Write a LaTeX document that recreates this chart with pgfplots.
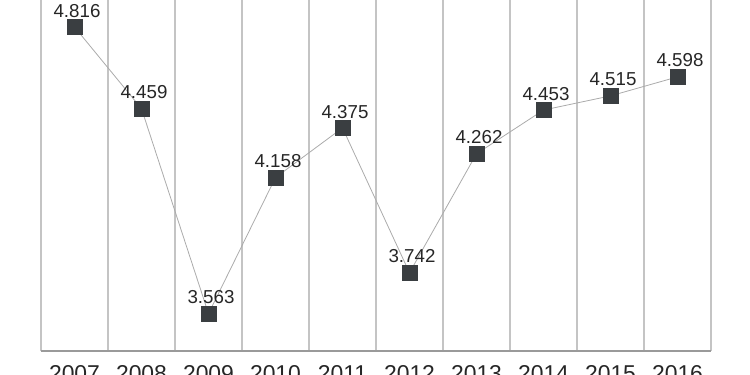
\documentclass[border=0pt]{standalone}
\usepackage{fontspec}
\setmainfont{Liberation Sans}
\usepackage{pgfplots}
\pgfplotsset{compat=1.18}
\definecolor{markc}{HTML}{3A3E41}
\definecolor{linec}{HTML}{ABABAB}
\definecolor{gridc}{HTML}{C4C4C4}
\definecolor{axisc}{HTML}{9A9A9A}
\begin{document}
\begin{tikzpicture}
\path[use as bounding box] (0,0) rectangle (750bp,375bp);
\begin{axis}[
  at={(41bp,24bp)}, anchor=south west,
  width=670bp, height=351bp, scale only axis,
  xmin=-0.5, xmax=9.5, ymin=3.40, ymax=4.934,
  axis x line*=bottom, axis y line=none,
  x axis line style={-, draw=axisc, line width=1.3bp},
  xtick={0,...,9},
  xticklabels={2007,2008,2009,2010,2011,2012,2013,2014,2015,2016},
  major tick length=0pt, minor tick length=0pt,
  minor xtick={-0.5,0.5,...,9.5},
  xminorgrids,
  minor grid style={draw=gridc, line width=1.2bp},
  ytick=\empty,
  xticklabel style={font=\fontsize{23}{26}\selectfont, inner sep=0pt, yshift=-14bp, text=black!85},
  clip=false,
]
\addplot[draw=linec, line width=0.8bp, mark=square*, mark size=7.6bp,
  mark options={fill=markc, draw=markc, line width=0.4bp},
  nodes near coords, point meta=explicit symbolic,
  every node near coord/.append style={anchor=south, inner sep=0pt, yshift=9.5bp, xshift=2.5bp,
    font=\fontsize{18.8}{21}\selectfont, text=black!85}]
table[meta=label] {
x y label
0 4.816 4.816
1 4.459 4.459
2 3.563 3.563
3 4.158 4.158
4 4.375 4.375
5 3.742 3.742
6 4.262 4.262
7 4.453 4.453
8 4.515 4.515
9 4.598 4.598
};
\end{axis}
\end{tikzpicture}
\end{document}
